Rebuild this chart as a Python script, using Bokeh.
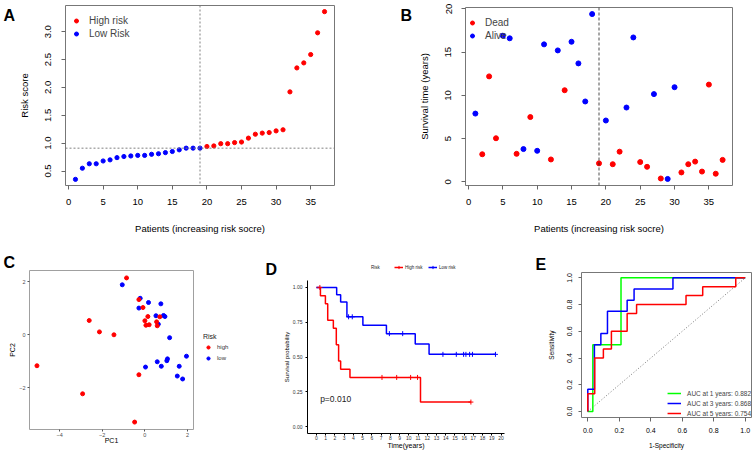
from bokeh.plotting import figure
from bokeh.layouts import row, column
from bokeh.models import (Span, Label, Legend, LegendItem, Range1d, FixedTicker, Title,
                          PrintfTickFormatter)
from bokeh.embed import file_html
from bokeh.resources import INLINE

# ---------------- data ----------------
patients = list(range(1, 38))
risk_score = [0.35, 0.55, 0.63, 0.63, 0.68, 0.70, 0.74, 0.76, 0.77, 0.78, 0.78, 0.80,
              0.81, 0.83, 0.85, 0.88, 0.91, 0.91, 0.91, 0.94, 0.95, 0.99, 0.99, 1.01,
              1.02, 1.09, 1.16, 1.18, 1.19, 1.22, 1.24, 1.92, 2.35, 2.44, 2.59, 2.98, 3.36]
risk_group = ["low"] * 19 + ["high"] * 18

surv_time = [7.9, 3.2, 12.2, 5.05, 16.9, 16.6, 3.25, 3.8, 7.5, 3.6, 15.9, 2.6, 15.2,
             10.6, 16.2, 13.7, 9.3, 19.4, 2.15, 7.1, 2.05, 3.5, 8.6, 16.7, 2.3, 1.75,
             10.15, 0.4, 0.35, 10.95, 1.1, 2.05, 2.35, 1.2, 11.25, 0.95, 2.55]
surv_status = ["Alive", "Dead", "Dead", "Dead", "Alive", "Alive", "Dead", "Alive", "Dead",
               "Alive", "Alive", "Dead", "Alive", "Dead", "Alive", "Alive", "Alive", "Alive",
               "Dead", "Alive", "Dead", "Dead", "Alive", "Alive", "Dead", "Dead", "Alive",
               "Dead", "Alive", "Alive", "Dead", "Dead", "Dead", "Dead", "Dead", "Dead", "Dead"]

pc1_high = [-0.86, -0.28, -0.09, 0.14, 0.00, 0.05, 0.20, 0.55, 0.58, 0.70, -2.61, -2.13,
            -1.45, -5.06, -2.92, -0.28, -0.48]
pc2_high = [2.15, 1.33, 1.03, 0.69, 0.53, 0.36, 0.38, 0.49, 0.34, 0.68, 0.54, 0.11,
            0.00, -1.17, -2.23, -1.51, -3.30]
pc1_low = [-1.06, -0.22, -0.28, 0.17, 0.75, 0.52, 0.875, 0.94, 0.63, 1.16, 1.95, 1.06,
           1.03, 0.58, 0.03, 0.77, 1.61, 1.52, 1.77]
pc2_low = [1.89, 1.38, 1.01, 1.22, 1.17, 0.72, 0.73, 0.69, 0.40, -0.11, -0.81, -0.91,
           -0.98, -1.02, -1.22, -1.19, -1.19, -1.56, -1.67]

km_high_time = [0, 0.43, 0.97, 1.22, 1.83, 2.15, 2.40, 2.62, 3.63, 11.27, 16.73]
km_high_surv = [1.0, 0.941, 0.882, 0.765, 0.706, 0.588, 0.471, 0.412, 0.353, 0.176, 0.176]
cens_high_time = [0.37, 7.1, 8.69, 10.2, 10.95, 16.73]
cens_high_surv = [1.0, 0.353, 0.353, 0.353, 0.353, 0.176]
km_low_time = [0, 2.19, 2.62, 3.30, 5.03, 7.58, 10.7, 12.2, 19.4]
km_low_surv = [1.0, 0.947, 0.895, 0.789, 0.728, 0.668, 0.593, 0.519, 0.519]
cens_low_time = [3.48, 3.88, 7.9, 9.34, 13.7, 15.15, 15.94, 16.19, 16.59, 16.9, 19.39]
cens_low_surv = [0.789, 0.789, 0.668, 0.668, 0.519, 0.519, 0.519, 0.519, 0.519, 0.519, 0.519]
p_value = "p=0.010"

roc_years = [1, 3, 5]
roc_auc = [0.882, 0.868, 0.754]
roc1_fpr = [0, 0.032, 0.032, 0.211, 0.211, 1.0]
roc1_tpr = [0, 0, 0.5, 0.5, 1.0, 1.0]
roc3_fpr = [0, 0, 0.042, 0.042, 0.083, 0.083, 0.125, 0.125, 0.25, 0.25, 0.294, 0.294, 0.541, 0.541, 1.0]
roc3_tpr = [0, 0.167, 0.167, 0.5, 0.5, 0.583, 0.583, 0.75, 0.75, 0.833, 0.833, 0.917, 0.917, 1.0, 1.0]
roc5_fpr = [0, 0, 0.044, 0.044, 0.099, 0.099, 0.15, 0.15, 0.25, 0.25, 0.31, 0.31, 0.624, 0.624,
            0.73, 0.73, 0.94, 0.94, 1.0]
roc5_tpr = [0, 0.133, 0.133, 0.4, 0.4, 0.467, 0.467, 0.6, 0.6, 0.733, 0.733, 0.8, 0.8, 0.867,
            0.867, 0.933, 0.933, 1.0, 1.0]

# ---------------- helpers ----------------
FONT = "Liberation Sans"
RED, BLUE, GREEN = "#FF0000", "#0000FF", "#00FF00"


def base_fig(w, h, xr, yr, L=0, T=0, R=0, B=0, axes=True):
    kw = {}
    if not axes:
        kw = dict(x_axis_location=None, y_axis_location=None)
    p = figure(width=w, height=h, x_range=xr, y_range=yr, output_backend="svg",
               toolbar_location=None, title=None, min_border=0, min_border_left=L,
               min_border_right=R, min_border_top=T, min_border_bottom=B, **kw)
    p.frame_align = False
    p.xgrid.visible = False
    p.ygrid.visible = False
    p.background_fill_color = "white"
    p.border_fill_color = "white"
    p.outline_line_color = None
    return p


def make(w, h, ox, oy, frame, xr, yr):
    x0, y0, x1, y1 = frame
    return base_fig(w, h, Range1d(*xr), Range1d(*yr),
                    x0 - ox, y0 - oy, w - (x1 - ox), h - (y1 - oy))


def letter_fig(w, h, ox, oy, text, left, base):
    f = base_fig(w, h, Range1d(0, w), Range1d(h, 0), axes=False)
    f.add_layout(Label(x=left - ox, y=min(base - oy, h - 9), text=text, text_font=FONT,
                       text_font_size="16px", text_font_style="bold",
                       text_baseline="alphabetic", text_align="left", text_color="black"))
    return f


def title_letter(p, text, left, frame_left):
    p.add_layout(Title(text=text, align="left", offset=left - frame_left, standoff=0,
                       vertical_align="bottom", text_font=FONT, text_font_size="16px",
                       text_font_style="bold", text_color="black"), "above")


def style_axis(ax, tick_size, label_size, tick_color, tick_out, standoff, lab_standoff,
               line_color=None, tick_line_color="#666666"):
    ax.major_label_text_font = FONT
    ax.major_label_text_font_size = tick_size
    ax.major_label_text_color = tick_color
    ax.axis_label_text_font = FONT
    ax.axis_label_text_font_size = label_size
    ax.axis_label_text_font_style = "normal"
    ax.axis_label_text_color = "black"
    ax.major_tick_out = tick_out
    ax.major_tick_in = 0
    ax.major_tick_line_color = tick_line_color
    ax.minor_tick_line_color = None
    ax.major_label_standoff = standoff
    ax.axis_label_standoff = lab_standoff
    ax.axis_line_color = line_color


def r_box(p):
    p.outline_line_color = "#777777"
    p.outline_line_width = 1
    p.outline_line_alpha = 1


# ---------------- Panel A ----------------
LA = letter_fig(15, 236, 0, 0, "A", 3, 15)
pA = make(355, 236, 15, 0, (63, 5, 334, 186), (-0.44, 38.44), (0.24, 3.47))
r_box(pA)
n_low = risk_group.count("low")
lowx = [patients[i] for i in range(37) if risk_group[i] == "low"]
lowy = [risk_score[i] for i in range(37) if risk_group[i] == "low"]
highx = [patients[i] for i in range(37) if risk_group[i] == "high"]
highy = [risk_score[i] for i in range(37) if risk_group[i] == "high"]
pA.add_layout(Span(location=n_low, dimension="height", line_color="#808080",
                   line_dash="2 2", line_width=1))
pA.add_layout(Span(location=risk_score[n_low - 1], dimension="width", line_color="#808080",
                   line_dash="2 2", line_width=1))
rA_l = pA.scatter(lowx, lowy, size=4.2, color=BLUE)
rA_h = pA.scatter(highx, highy, size=4.2, color=RED)
pA.xaxis.ticker = FixedTicker(ticks=[0, 5, 10, 15, 20, 25, 30, 35])
pA.yaxis.ticker = FixedTicker(ticks=[0.5, 1.0, 1.5, 2.0, 2.5, 3.0])
pA.yaxis.formatter = PrintfTickFormatter(format="%.1f")
pA.xaxis.axis_label = "Patients (increasing risk socre)"
pA.yaxis.axis_label = "Risk score"
style_axis(pA.xaxis[0], "9.5px", "9.5px", "black", 4, 9, 15)
style_axis(pA.yaxis[0], "9.5px", "9.5px", "black", 4, 10, 13)
pA.yaxis.major_label_orientation = "parallel"
legA = Legend(items=[LegendItem(label="High risk", renderers=[rA_h]),
                     LegendItem(label="Low Risk", renderers=[rA_l])],
              location=(6, 146), margin=0, padding=2, spacing=2, glyph_width=10,
              glyph_height=11, label_height=11, label_standoff=8,
              label_text_font=FONT, label_text_font_size="10px",
              border_line_color=None, background_fill_alpha=0)
pA.add_layout(legA)

# ---------------- Panel B ----------------
LB = letter_fig(44, 236, 370, 0, "B", 400, 15)
pB = make(339, 236, 414, 0, (465, 7, 732, 185), (-0.44, 38.44), (-0.41, 20.16))
r_box(pB)
pB.add_layout(Span(location=n_low, dimension="height", line_color="#222222",
                   line_dash="3 2", line_width=0.8))
dead_x = [patients[i] for i in range(37) if surv_status[i] == "Dead"]
dead_y = [surv_time[i] for i in range(37) if surv_status[i] == "Dead"]
alive_x = [patients[i] for i in range(37) if surv_status[i] == "Alive"]
alive_y = [surv_time[i] for i in range(37) if surv_status[i] == "Alive"]
pB.xaxis.ticker = FixedTicker(ticks=[0, 5, 10, 15, 20, 25, 30, 35])
pB.yaxis.ticker = FixedTicker(ticks=[0, 5, 10, 15, 20])
pB.xaxis.axis_label = "Patients (increasing risk socre)"
pB.yaxis.axis_label = "Survival time (years)"
style_axis(pB.xaxis[0], "9.5px", "9.5px", "black", 4, 9, 15)
style_axis(pB.yaxis[0], "9.5px", "9.5px", "black", 4, 10, 13)
pB.yaxis.major_label_orientation = "parallel"
rB_d = pB.scatter(dead_x, dead_y, size=5, color=RED)
rB_a = pB.scatter(alive_x, alive_y, size=5, color=BLUE)
legB = Legend(items=[LegendItem(label="Dead", renderers=[rB_d]),
                     LegendItem(label="Alive", renderers=[rB_a])],
              location=(2, 144), margin=0, padding=2, spacing=2, glyph_width=10,
              glyph_height=11, label_height=11, label_standoff=8,
              label_text_font=FONT, label_text_font_size="10px",
              border_line_color=None, background_fill_alpha=0, level="underlay")
pB.add_layout(legB)

# ---------------- Panel C ----------------
pC = make(197, 217, 0, 236, (29, 270, 193, 429), (-5.41, 2.28), (-3.58, 2.43))
pC.outline_line_color = "#a0a0a0"
pC.outline_line_width = 1
pC.xaxis.ticker = FixedTicker(ticks=[-4, -2, 0, 2])
pC.yaxis.ticker = FixedTicker(ticks=[-2, 0, 2])
pC.xaxis.axis_label = "PC1"
pC.yaxis.axis_label = "PC2"
style_axis(pC.xaxis[0], "5.5px", "7px", "#4d4d4d", 2, 1, -3, tick_line_color="#555555")
style_axis(pC.yaxis[0], "5.5px", "7px", "#4d4d4d", 2, 2, 0, tick_line_color="#555555")
pC.scatter(pc1_low, pc2_low, size=4, color=BLUE)
pC.scatter(pc1_high, pc2_high, size=4, color=RED)
title_letter(pC, "C", 3, 29)

# legend of panel C, in its own strip to the right of the panel
CLeg = base_fig(48, 217, Range1d(0, 1), Range1d(0, 1), L=203 - 197, T=333 - 236,
                axes=False)
lc_h = CLeg.scatter(pc1_high, pc2_high, size=4, color=RED, visible=False)
lc_l = CLeg.scatter(pc1_low, pc2_low, size=4, color=BLUE, visible=False)
legC = Legend(items=[LegendItem(label="high", renderers=[lc_h]),
                     LegendItem(label="low", renderers=[lc_l])],
              title="Risk", title_text_font=FONT, title_text_font_size="7px",
              title_text_font_style="normal", title_text_color="#222222", title_standoff=3,
              location="top_left", margin=0, padding=0, spacing=3, glyph_width=10,
              glyph_height=8, label_height=8, label_standoff=4,
              label_text_font=FONT, label_text_font_size="6px", label_text_color="#333333",
              inactive_fill_alpha=0, border_line_color=None, background_fill_alpha=0)
CLeg.add_layout(legC)

# ---------------- Panel D ----------------
DL = letter_fig(62, 42, 245, 236, "D", 265, 272)
DG = base_fig(213, 42, Range1d(0, 1), Range1d(0, 1), L=371 - 11 - 307, T=27, axes=False)
blankD = DG.scatter([], [])
lg_h = DG.line(km_high_time, km_high_surv, color=RED, line_width=1.5, visible=False)
lg_hc = DG.scatter(cens_high_time, cens_high_surv, marker="cross", size=5, color=RED,
                   line_width=1, visible=False)
lg_l = DG.line(km_low_time, km_low_surv, color=BLUE, line_width=1.5, visible=False)
lg_lc = DG.scatter(cens_low_time, cens_low_surv, marker="cross", size=5, color=BLUE,
                   line_width=1, visible=False)
legD = Legend(items=[LegendItem(label="Risk", renderers=[blankD]),
                     LegendItem(label="High risk", renderers=[lg_h, lg_hc]),
                     LegendItem(label="Low risk", renderers=[lg_l, lg_lc])],
              orientation="horizontal", location="top_left", margin=0, padding=0,
              spacing=3, glyph_width=9, glyph_height=8, label_height=8, label_standoff=2,
              label_text_font=FONT, label_text_font_size="4.5px", label_text_color="#222222",
              inactive_fill_alpha=0, border_line_color=None, background_fill_alpha=0)
DG.add_layout(legD)

pD = make(275, 175, 245, 278, (307, 280, 504, 433), (-0.97, 20.37), (-0.05, 1.05))
pD.xaxis.ticker = FixedTicker(ticks=list(range(0, 21)))
pD.yaxis.ticker = FixedTicker(ticks=[0, 0.25, 0.5, 0.75, 1.0])
pD.yaxis.formatter = PrintfTickFormatter(format="%.2f")
pD.xaxis.axis_label = "Time(years)"
pD.yaxis.axis_label = "Survival probability"
style_axis(pD.xaxis[0], "5px", "7px", "#333333", 2, 0, -1, line_color="black",
           tick_line_color="black")
style_axis(pD.yaxis[0], "5px", "6px", "#333333", 2, 3, 0, line_color="black",
           tick_line_color="black")
pD.step(km_high_time, km_high_surv, mode="after", color=RED, line_width=1.5)
pD.step(km_low_time, km_low_surv, mode="after", color=BLUE, line_width=1.5)
pD.scatter(cens_high_time, cens_high_surv, marker="cross", size=5, color=RED, line_width=1)
pD.scatter(cens_low_time, cens_low_surv, marker="cross", size=5, color=BLUE, line_width=1)
pD.text(x=[0.4], y=[0.2], text=[p_value], text_font_size="8.5px", text_baseline="middle",
        text_align="left", text_color="#222222", text_font={"value": FONT})

# ---------------- Panel E ----------------
pE = make(233, 217, 520, 236, (581, 272, 751, 417), (-0.04, 1.04), (-0.045, 1.04))
r_box(pE)
ticksE = [0, 0.2, 0.4, 0.6, 0.8, 1.0]
pE.xaxis.ticker = FixedTicker(ticks=ticksE)
pE.yaxis.ticker = FixedTicker(ticks=ticksE)
pE.xaxis.formatter = PrintfTickFormatter(format="%.1f")
pE.yaxis.formatter = PrintfTickFormatter(format="%.1f")
pE.xaxis.axis_label = "1-Specificity"
pE.yaxis.axis_label = "Sensitivity"
style_axis(pE.xaxis[0], "7px", "6.5px", "black", 4, 6, 6)
style_axis(pE.yaxis[0], "7px", "6.5px", "black", 3, 6, 10)
pE.yaxis.major_label_orientation = "parallel"
pE.line([0, 1], [0, 1], line_dash="1 2", color="#555555", line_width=0.8)
r1 = pE.line(roc1_fpr, roc1_tpr, color=GREEN, line_width=1.5)
r3 = pE.line(roc3_fpr, roc3_tpr, color=BLUE, line_width=1.5)
r5 = pE.line(roc5_fpr, roc5_tpr, color=RED, line_width=1.5)
legE = Legend(items=[LegendItem(label="AUC at %d years: %.3f" % (y, a), renderers=[r])
                     for y, a, r in zip(roc_years, roc_auc, [r1, r3, r5])],
              location="bottom_right", margin=0, padding=5, spacing=2, glyph_width=14,
              glyph_height=8, label_height=8, label_standoff=6,
              label_text_font=FONT, label_text_font_size="6.5px",
              border_line_color=None, background_fill_alpha=0)
pE.add_layout(legE)
title_letter(pE, "E", 535, 581)

top_row = row(LA, pA, LB, pB)
bottom_row = row(pC, CLeg, column(row(DL, DG), pD), pE)
layout = column(top_row, bottom_row)
open("out.html", "w").write(file_html(layout, INLINE))
